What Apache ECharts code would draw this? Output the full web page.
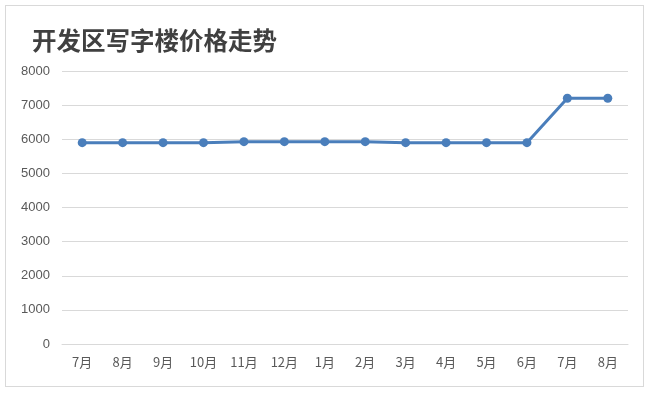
<!DOCTYPE html>
<html>
<head>
<meta charset="utf-8">
<script src="https://cdn.jsdelivr.net/npm/echarts@6/dist/echarts.min.js"></script>
<style>
html,body{margin:0;padding:0;background:#fff;}
#wrap{position:absolute;left:5px;top:5px;width:639px;height:382px;border:1px solid #d9d9d9;box-sizing:border-box;}
#chart{position:absolute;left:0;top:0;width:650px;height:394px;}
</style>
</head>
<body>
<div id="wrap"></div>
<div id="chart"></div>
<script>
var titleText = '开发区写字楼价格走势';
var categories = ['7月','8月','9月','10月','11月','12月','1月','2月','3月','4月','5月','6月','7月','8月'];
var prices = [5900, 5900, 5900, 5900, 5930, 5930, 5930, 5930, 5900, 5900, 5900, 5900, 7200, 7200];
var yTicks = [0, 1000, 2000, 3000, 4000, 5000, 6000, 7000, 8000];

var chart = echarts.init(document.getElementById('chart'));
chart.setOption({
  animation: false,
  title: {
    text: titleText,
    left: 27, top: 23,
    textStyle: {fontFamily: 'Noto Sans CJK SC', fontSize: 24.5, fontWeight: 'bold', color: '#404040'}
  },
  grid: {left: 62, right: 22, top: 71, bottom: 50},
  xAxis: {
    type: 'category',
    data: categories,
    boundaryGap: true,
    axisLine: {lineStyle: {color: '#d9d9d9', width: 1}},
    axisTick: {show: false},
    axisLabel: {color: '#595959', fontSize: 13, fontFamily: 'Noto Sans CJK SC', margin: 12, interval: 0}
  },
  yAxis: {
    type: 'value',
    min: yTicks[0], max: yTicks[yTicks.length - 1], interval: 1000,
    axisLine: {show: false},
    axisTick: {show: false},
    splitLine: {lineStyle: {color: '#d9d9d9', width: 1}},
    axisLabel: {color: '#595959', fontSize: 13, fontFamily: 'Liberation Sans', margin: 12,
      formatter: function (v) { return String(v); }}
  },
  series: [{
    type: 'line',
    data: prices,
    symbol: 'circle',
    symbolSize: 9,
    lineStyle: {color: '#4a7ebb', width: 3},
    itemStyle: {color: '#4a7ebb'}
  }]
});
</script>
</body>
</html>
